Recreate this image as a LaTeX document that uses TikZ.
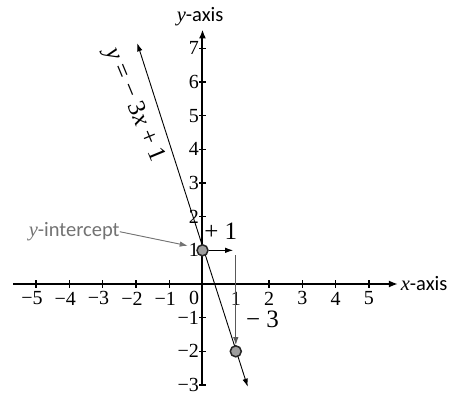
\documentclass[tikz,border=0pt]{standalone}
\usepackage{fontspec}
\setmainfont{Liberation Serif}
\newfontfamily\sansf{Carlito}
\usetikzlibrary{arrows.meta}
\begin{document}
\begin{tikzpicture}[x=33.3pt,y=33.67pt,
  axis/.style={line width=2pt,-{Latex[length=9pt,width=7pt]}},
  tickmark/.style={line width=1.3pt},
  ticklbl/.style={font=\fontsize{20}{20}\selectfont, inner sep=0.3pt},
  axlbl/.style={font=\fontsize{20.5}{20.5}\selectfont, inner sep=0pt},
  bigl/.style={font=\fontsize{25}{25}\selectfont, inner sep=0pt},
  pnt/.style={circle,draw=black!85,line width=1.5pt,fill=black!38,minimum size=11pt,inner sep=0pt},
  thinarrow/.style={line width=0.9pt,-{Latex[length=8pt,width=5.5pt]}},
  grayc/.style={color=black!55}
]
\useasboundingbox (-6.081,-3.267) rectangle (7.523,8.435);
% axes
\coordinate (xs) at (-5.69,0);
\coordinate (xe) at (5.87,0);
\coordinate (ys) at (0,-3);
\coordinate (ye) at (0,7.56);
\draw[axis] (xs) -- (xe);
\draw[axis] (ys) -- (ye);
\node[axlbl,anchor=west] (xlab) at (5.95,0) {\textit{x}{\sansf -axis}};
\node[axlbl] (ylab) at (-0.07,7.94) {\textit{y}{\sansf -axis}};
% x ticks
\foreach \i/\t in {-5/−5,-4/−4,-3/−3,-2/−2,-1/−1}{
  \draw[tickmark] (\i,-0.105) -- (\i,0.105);
  \node[ticklbl] (xtm\t) at ({\i-0.12},-0.43) {\t};
}
\foreach \i in {1,2,3,4,5}{
  \draw[tickmark] (\i,-0.105) -- (\i,0.105);
  \node[ticklbl] (xtp\i) at (\i,-0.43) {\i};
}
\node[ticklbl] (zero) at (-0.255,-0.42) {0};
% y ticks
\foreach \j/\t in {-3/−3,-2/−2,-1/−1,1/1,2/2,3/3,4/4,5/5,6/6,7/7}{
  \draw[tickmark] (-0.09,\j) -- (0.1,\j);
  \node[ticklbl,anchor=east] (yt\t) at (-0.09,\j) {\t};
}
% line y = -3x + 1
\coordinate (la) at (-1.958,7.15);
\coordinate (lb) at (1.357,-3.05);
\draw[line width=0.9pt,{Latex[length=8pt,width=5.5pt]}-{Latex[length=8pt,width=5.5pt]}] (la) -- (lb);
\node[bigl,rotate=-67.5] (eq) at (-2.06,5.3) {\textit{y} = − 3\textit{x} + 1};
% points
\node[pnt] (p1) at (0,1) {};
\node[pnt] (p2) at (1,-2) {};
% run and rise
\coordinate (h) at (0.92,1);
\draw[thinarrow] (p1) -- (h);
\coordinate (v) at (1,0.86);
\draw[thinarrow,draw=black!65] (v) -- (p2);
\node[bigl] (plus) at (0.55,1.56) {+ 1};
\node[bigl] (minus) at (1.8,-1.04) {− 3};
% y-intercept label
\node[axlbl,grayc] (yint) at (-3.853,1.553) {\textit{y}{\sansf -intercept}};
\coordinate (yia) at (-0.444,1.137);
\draw[thinarrow,draw=black!55,fill=black!55] (yint.east) -- (yia);
\end{tikzpicture}
\end{document}
